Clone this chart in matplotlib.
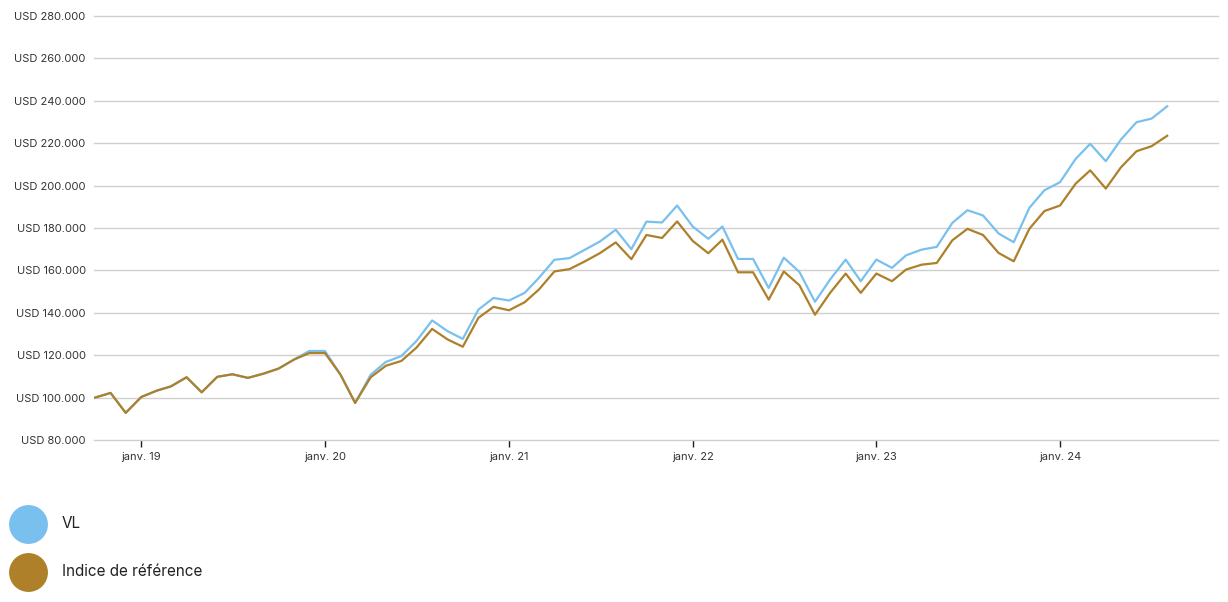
import matplotlib.pyplot as plt
from matplotlib.lines import Line2D
from matplotlib.ticker import FuncFormatter
import pandas as pd

plt.rcParams["font.family"] = ["Inter", "DejaVu Sans"]

# monthly values, Oct 2018 .. Aug 2024 (in USD thousands)
months = pd.date_range("2018-10-01", "2024-08-01", freq="MS")

vl = [
    100.0, 102.2, 92.8, 100.3, 103.3, 105.3, 109.6, 102.5, 109.8, 111.0,
    109.3, 111.3, 113.7, 118.0, 122.0, 122.0, 110.8, 97.5, 110.8, 116.8,
    119.6, 126.7, 136.4, 131.3, 127.7, 141.5, 147.0, 145.8, 149.4, 156.4,
    165.0, 165.8, 169.8, 173.7, 179.2, 170.0, 183.0, 182.6, 190.6, 180.7,
    174.9, 180.7, 165.4, 165.4, 151.7, 166.0, 159.3, 145.2, 155.7, 165.1,
    154.9, 165.1, 161.2, 167.1, 169.8, 171.1, 182.4, 188.4, 185.9, 177.4,
    173.3, 189.5, 197.8, 201.6, 212.6, 219.7, 211.5, 221.7, 229.9, 231.6,
    237.4,
]

indice = [
    100.0, 102.2, 92.8, 100.3, 103.3, 105.3, 109.6, 102.5, 109.8, 111.0,
    109.3, 111.3, 113.7, 118.0, 121.0, 121.0, 110.8, 97.5, 109.6, 115.0,
    117.3, 123.6, 132.4, 127.4, 124.0, 137.6, 142.8, 141.2, 145.0, 150.9,
    159.5, 160.6, 164.3, 168.2, 173.2, 165.3, 176.7, 175.3, 183.1, 173.9,
    168.1, 174.5, 159.1, 159.1, 146.2, 159.5, 153.0, 139.1, 149.4, 158.5,
    149.4, 158.5, 154.9, 160.4, 162.7, 163.5, 174.2, 179.6, 176.7, 168.2,
    164.3, 179.6, 188.0, 190.6, 200.9, 207.2, 198.6, 208.6, 216.2, 218.6,
    223.5,
]

labels = ["VL", "Indice de référence"]
colors = ["#79C0EE", "#AD8029"]

fig = plt.figure(figsize=(12.28, 6.02), dpi=100)
ax = fig.add_axes([94 / 1228, 1 - 440 / 602, (1218 - 94) / 1228, (440 - 16) / 602])

ax.plot(months, [v * 1000 for v in vl], color=colors[0], lw=1.6)
ax.plot(months, [v * 1000 for v in indice], color=colors[1], lw=1.6)

ax.set_ylim(80000, 280000)
ax.set_yticks(range(80000, 280001, 20000))
ax.yaxis.set_major_formatter(FuncFormatter(lambda v, p: "USD " + f"{int(v):,}".replace(",", ".")))
ax.set_xlim(pd.Timestamp("2018-09-29"), pd.Timestamp("2024-11-10"))

ticks = pd.date_range("2019-01-01", "2024-01-01", freq="YS")
ax.set_xticks(ticks)
ax.set_xticklabels([f"janv. {d.year % 100}" for d in ticks])

ax.grid(axis="y", color="#d0d0d0", lw=1)
for gl in ax.get_ygridlines():
    gl.set_clip_on(False)
ax.set_axisbelow(True)
for s in ax.spines.values():
    s.set_visible(False)
ax.tick_params(axis="y", length=0, pad=6, labelsize=8, labelcolor="#333333")
ax.tick_params(axis="x", length=5, width=1, color="#222222", pad=4, labelsize=8, labelcolor="#333333")

# legend drawn as big circles below the chart
for i, (lab, c) in enumerate(zip(labels, colors)):
    yy = 1 - (524 + 48 * i) / 602
    fig.add_artist(Line2D([28 / 1228], [yy], marker="o", markersize=28, color=c,
                          markeredgewidth=0, transform=fig.transFigure))
    fig.text(62 / 1228, yy, lab, fontsize=11, color="#222222", va="center")

fig.savefig("out.png", dpi=100, facecolor="white")
